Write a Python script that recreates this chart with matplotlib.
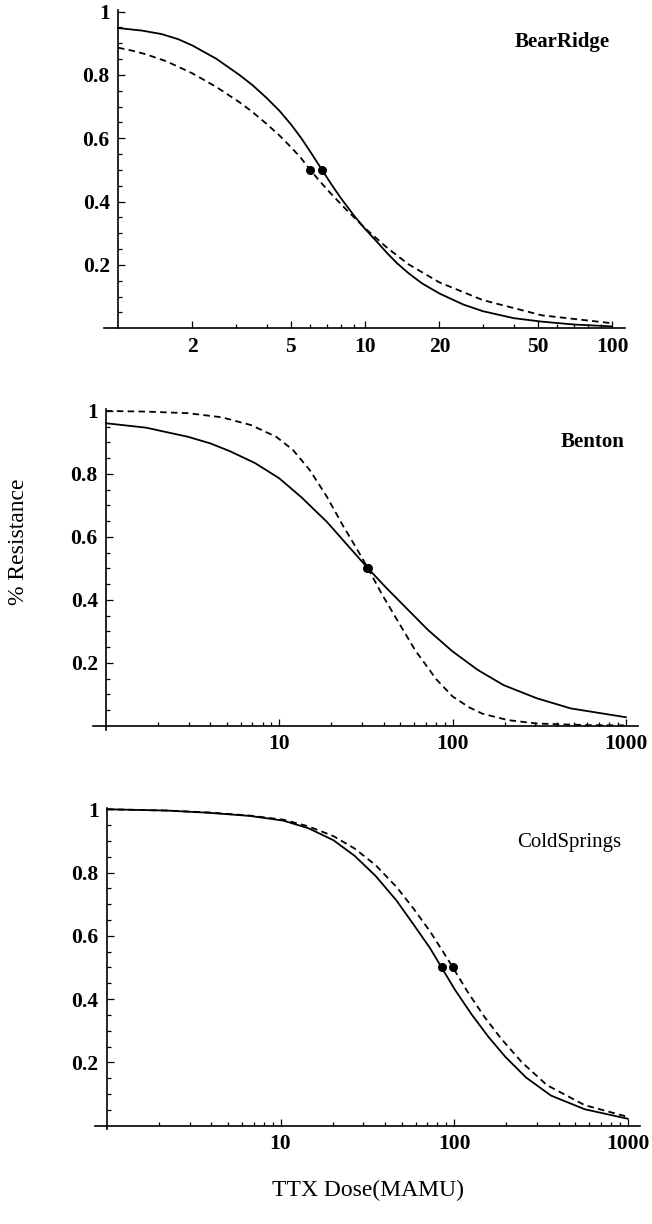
import numpy as np
import matplotlib
matplotlib.use("Agg")
import matplotlib.pyplot as plt
from matplotlib.ticker import FixedLocator, NullFormatter

plt.rcParams['font.family'] = ['Liberation Serif', 'DejaVu Serif']

# ---------------- data ----------------
panel_names = ["BearRidge", "Benton", "ColdSprings"]

bear_solid_x = [1, 1.25, 1.5, 1.75, 2, 2.5, 3.1, 3.5, 4, 4.5, 5, 5.5, 6, 6.7, 7.3, 8, 9, 10,
                11, 12.3, 13.5, 15, 17, 20, 25, 30, 40, 52, 70, 100]
bear_solid_y = [0.948, 0.940, 0.929, 0.913, 0.893, 0.851, 0.800, 0.768, 0.727, 0.687, 0.645,
                0.602, 0.558, 0.500, 0.455, 0.410, 0.357, 0.314, 0.279, 0.237, 0.205, 0.174,
                0.142, 0.110, 0.075, 0.054, 0.032, 0.021, 0.012, 0.006]
bear_dash_x = [1, 1.15, 1.3, 1.57, 2, 2.5, 3.1, 3.5, 4, 4.5, 5, 5.5, 5.97, 6.5, 7.16, 8.36, 10,
               12.3, 15, 20, 30, 52, 100]
bear_dash_y = [0.886, 0.876, 0.865, 0.843, 0.805, 0.762, 0.714, 0.683, 0.645, 0.609, 0.573,
               0.538, 0.502, 0.468, 0.431, 0.376, 0.316, 0.254, 0.202, 0.145, 0.089, 0.041, 0.016]

benton_solid_x = [1, 1.7, 2.97, 4, 5.2, 7.27, 10, 13.4, 18.8, 24.9, 32.5, 41.1, 51.4, 71.9, 100,
                  140, 197, 307, 481, 1000]
benton_solid_y = [0.961, 0.947, 0.918, 0.897, 0.872, 0.834, 0.786, 0.726, 0.648, 0.572, 0.500,
                  0.440, 0.386, 0.305, 0.236, 0.177, 0.129, 0.087, 0.055, 0.027]
benton_dash_x = [1, 1.7, 2.97, 4.65, 6.88, 9.6, 12, 15, 18.8, 23.5, 27.8, 32.5, 38.9, 48.6,
                 60.8, 80.4, 100, 125, 149, 208, 307, 601, 1000]
benton_dash_y = [1.0, 0.998, 0.993, 0.980, 0.955, 0.918, 0.876, 0.812, 0.728, 0.632, 0.565,
                 0.500, 0.420, 0.330, 0.240, 0.148, 0.093, 0.058, 0.038, 0.018, 0.007, 0.002,
                 0.001]

cold_solid_x = [1, 2.2, 3.83, 6.67, 10.4, 14.5, 20.2, 26.7, 35.2, 46.5, 58, 72.5, 84.7, 101,
                126, 158, 197, 260, 362, 565, 1000]
cold_solid_y = [1.0, 0.996, 0.989, 0.979, 0.964, 0.940, 0.902, 0.853, 0.790, 0.712, 0.638,
                0.562, 0.500, 0.430, 0.352, 0.280, 0.218, 0.152, 0.095, 0.052, 0.022]
cold_dash_x = [1, 2.2, 3.83, 6.67, 10.4, 14.5, 20.2, 26.7, 35.2, 46.5, 58, 72.5, 85.6, 98.4,
               119, 149, 186, 246, 343, 565, 1000]
cold_dash_y = [1.0, 0.996, 0.990, 0.980, 0.967, 0.946, 0.915, 0.876, 0.824, 0.755, 0.688,
               0.615, 0.553, 0.500, 0.425, 0.345, 0.276, 0.200, 0.128, 0.065, 0.028]

ed50_solid = [6.7, 32.5, 84.7]
ed50_dash = [5.97, 32.0, 98.4]
ed50_level = [0.5, 0.5, 0.5]

bear_major = [2, 5, 10, 20, 50, 100]
bear_minor = [3, 4, 6, 7, 8, 9, 30, 40, 60, 70, 80, 90]
wide_major = [10, 100, 1000]
wide_minor = [2, 3, 4, 5, 6, 7, 8, 9, 20, 30, 40, 50, 60, 70, 80, 90,
              200, 300, 400, 500, 600, 700, 800, 900]

y_major = [0.2, 0.4, 0.6, 0.8, 1.0]
y_major_labels = ["0.2", "0.4", "0.6", "0.8", "1"]
y_minor = [0.05, 0.1, 0.15, 0.25, 0.3, 0.35, 0.45, 0.5, 0.55, 0.65, 0.7, 0.75, 0.85, 0.9, 0.95]

# ---------------- figure ----------------
W, H = 652, 1224
fig = plt.figure(figsize=(W / 100, H / 100), dpi=100)

panels = [
    dict(rect=[0.1600, 0.73178, 0.7988, 0.26005], xlim=(0.88, 113), ylim=(0.0, 1.005),
         sx=bear_solid_x, sy=bear_solid_y, dx=bear_dash_x, dy=bear_dash_y,
         major=bear_major, minor=bear_minor),
    dict(rect=[0.14233, 0.40400, 0.83620, 0.26152], xlim=(0.839, 1175), ylim=(-0.012, 1.005),
         sx=benton_solid_x, sy=benton_solid_y, dx=benton_dash_x, dy=benton_dash_y,
         major=wide_major, minor=wide_minor),
    dict(rect=[0.14617, 0.07721, 0.83543, 0.26291], xlim=(0.857, 1177), ylim=(-0.012, 1.005),
         sx=cold_solid_x, sy=cold_solid_y, dx=cold_dash_x, dy=cold_dash_y,
         major=wide_major, minor=wide_minor),
]

tick_font = dict(family=['Liberation Serif', 'DejaVu Serif'], weight='bold', size=15.5)

for i, p in enumerate(panels):
    ax = fig.add_axes(p['rect'])
    ax.set_xscale('log')
    ax.set_xlim(*p['xlim'])
    ax.set_ylim(*p['ylim'])
    ax.patch.set_visible(False)

    ax.plot(p['sx'], p['sy'], color='black', lw=1.3, solid_joinstyle='round')
    ax.plot(p['dx'], p['dy'], color='black', lw=1.3, linestyle=(0, (3.6, 2.4)))
    ax.plot([ed50_solid[i], ed50_dash[i]], [ed50_level[i], ed50_level[i]], 'o',
            color='black', ms=6.5, markeredgewidth=0, linestyle='none')

    for s in ('top', 'right'):
        ax.spines[s].set_visible(False)
    ax.spines['left'].set_position(('data', 1))
    ax.spines['bottom'].set_position(('data', 0))
    ax.spines['left'].set_linewidth(1.2)
    ax.spines['bottom'].set_linewidth(1.2)

    ax.xaxis.set_major_locator(FixedLocator(p['major']))
    ax.xaxis.set_minor_locator(FixedLocator(p['minor']))
    ax.xaxis.set_minor_formatter(NullFormatter())
    ax.set_xticklabels([str(v) for v in p['major']], fontdict=tick_font)

    ax.yaxis.set_major_locator(FixedLocator(y_major))
    ax.yaxis.set_minor_locator(FixedLocator(y_minor))
    ax.set_yticklabels(y_major_labels, fontdict=tick_font)

    ax.tick_params(which='both', direction='in', width=0.9, pad=6)
    ax.tick_params(which='major', length=5)
    ax.tick_params(which='minor', length=3)

# panel titles
fig.text(562 / W, 1 - 42 / H, panel_names[0], ha='center', va='center',
         fontsize=15, fontweight='bold')
fig.text(593 / W, 1 - 442 / H, panel_names[1], ha='center', va='center',
         fontsize=15, fontweight='bold')
fig.text(569 / W, 1 - 842 / H, panel_names[2], ha='center', va='center',
         fontsize=15)

# axis labels
fig.text(19 / W, 1 - 542 / H, "% Resistance", rotation=90, ha='center', va='center',
         fontsize=17)
fig.text(368 / W, 1 - 1190 / H, "TTX Dose(MAMU)", ha='center', va='center',
         fontsize=17)

fig.savefig("out.png", dpi=100)
